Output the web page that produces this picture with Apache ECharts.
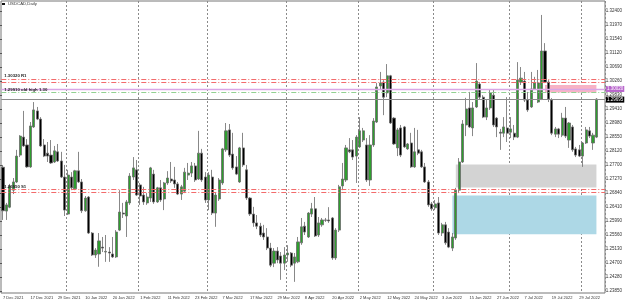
<!DOCTYPE html>
<html>
<head>
<meta charset="utf-8">
<script src="https://cdn.jsdelivr.net/npm/echarts@6/dist/echarts.min.js"></script>
<style>
html, body { margin: 0; padding: 0; background: #fff; }
#chart { width: 625px; height: 305px; }
</style>
</head>
<body>
<div id="chart"></div>
<script>
// USDCAD daily, 7 Dec 2021 .. 5 Aug 2022 (weekdays only, like the terminal)
const firstDay = [2021, 11, 7];
const barCount = 174;
const monthNames = ['Jan','Feb','Mar','Apr','May','Jun','Jul','Aug','Sep','Oct','Nov','Dec'];

const opens = [
  1.2763,1.2629,1.2641,1.2693,1.2718,1.2800,1.2855,1.2831,1.2764,1.2886,
  1.2935,1.2910,1.2831,1.2806,1.2800,1.2779,1.2810,1.2782,1.2733,1.2620,
  1.2733,1.2697,1.2752,1.2718,1.2630,1.2672,1.2562,1.2495,1.2498,1.2519,
  1.2504,1.2504,1.2498,1.2489,1.2571,1.2623,1.2614,1.2654,1.2733,1.2755,
  1.2709,1.2678,1.2654,1.2669,1.2742,1.2657,1.2700,1.2666,1.2715,1.2727,
  1.2724,1.2712,1.2681,1.2690,1.2739,1.2745,1.2767,1.2727,1.2806,1.2733,
  1.2663,1.2733,1.2623,1.2666,1.2715,1.2816,1.2877,1.2803,1.2764,1.2718,
  1.2822,1.2755,1.2669,1.2620,1.2593,1.2583,1.2562,1.2550,1.2516,1.2470,
  1.2507,1.2492,1.2470,1.2495,1.2501,1.2470,1.2474,1.2532,1.2583,1.2550,
  1.2620,1.2636,1.2556,1.2587,1.2602,1.2602,1.2608,1.2486,1.2571,1.2706,
  1.2724,1.2816,1.2816,1.2797,1.2825,1.2846,1.2831,1.2724,1.2831,1.2901,
  1.3011,1.3023,1.2990,1.3042,1.2913,1.2822,1.2883,1.2886,1.2819,1.2837,
  1.2764,1.2816,1.2810,1.2764,1.2718,1.2651,1.2639,1.2654,1.2562,1.2587,
  1.2565,1.2516,1.2547,1.2693,1.2779,1.2892,1.2944,1.2883,1.2947,1.3017,
  1.2977,1.2916,1.2944,1.2983,1.2913,1.2870,1.2867,1.2883,1.2870,1.2867,
  1.2855,1.3023,1.3026,1.2968,1.2947,1.3002,1.2962,1.2971,1.3118,1.3023,
  1.2968,1.2864,1.2880,1.2861,1.2913,1.2846,1.2886,1.2819,1.2816,1.2797,
  1.2837,1.2874,1.2837,1.2855
];
const closes = [
  1.2630,1.2648,1.2706,1.2718,1.2797,1.2858,1.2828,1.2764,1.2889,1.2938,
  1.2910,1.2828,1.2797,1.2797,1.2776,1.2813,1.2782,1.2733,1.2632,1.2739,
  1.2700,1.2752,1.2718,1.2630,1.2669,1.2562,1.2495,1.2510,1.2538,1.2516,
  1.2506,1.2501,1.2489,1.2565,1.2626,1.2620,1.2657,1.2736,1.2761,1.2678,
  1.2675,1.2657,1.2672,1.2761,1.2657,1.2700,1.2663,1.2715,1.2730,1.2721,
  1.2712,1.2681,1.2703,1.2748,1.2745,1.2767,1.2724,1.2806,1.2724,1.2663,
  1.2739,1.2623,1.2678,1.2724,1.2819,1.2874,1.2800,1.2761,1.2742,1.2822,
  1.2770,1.2669,1.2620,1.2593,1.2583,1.2556,1.2550,1.2516,1.2464,1.2507,
  1.2480,1.2470,1.2495,1.2501,1.2464,1.2489,1.2535,1.2581,1.2565,1.2623,
  1.2636,1.2553,1.2593,1.2602,1.2601,1.2599,1.2486,1.2571,1.2703,1.2727,
  1.2822,1.2810,1.2794,1.2855,1.2874,1.2874,1.2724,1.2831,1.2904,1.3008,
  1.3020,1.2977,1.3042,1.2898,1.2834,1.2877,1.2800,1.2825,1.2834,1.2764,
  1.2810,1.2806,1.2764,1.2718,1.2648,1.2636,1.2651,1.2562,1.2587,1.2532,
  1.2519,1.2550,1.2693,1.2779,1.2895,1.2941,1.2886,1.2944,1.3026,1.2977,
  1.2916,1.2944,1.2990,1.2892,1.2886,1.2867,1.2886,1.2867,1.2880,1.2855,
  1.3029,1.3035,1.2968,1.2938,1.3002,1.3020,1.3020,1.3118,1.3023,1.2971,
  1.2867,1.2880,1.2864,1.2913,1.2858,1.2898,1.2816,1.2800,1.2797,1.2837,
  1.2877,1.2858,1.2861,1.2971
];
const lows = [
  1.2602,1.2602,1.2638,1.2681,1.2715,1.2794,1.2825,1.2761,1.2761,1.2883,
  1.2907,1.2825,1.2794,1.2779,1.2773,1.2776,1.2779,1.2730,1.2614,1.2617,
  1.2693,1.2693,1.2715,1.2623,1.2627,1.2559,1.2492,1.2486,1.2459,1.2504,
  1.2474,1.2474,1.2486,1.2486,1.2568,1.2608,1.2550,1.2648,1.2724,1.2675,
  1.2648,1.2648,1.2648,1.2657,1.2651,1.2654,1.2657,1.2632,1.2709,1.2715,
  1.2700,1.2678,1.2663,1.2684,1.2724,1.2733,1.2718,1.2724,1.2718,1.2654,
  1.2632,1.2617,1.2581,1.2660,1.2709,1.2810,1.2794,1.2755,1.2739,1.2715,
  1.2764,1.2663,1.2614,1.2581,1.2574,1.2550,1.2541,1.2510,1.2458,1.2458,
  1.2470,1.2419,1.2449,1.2474,1.2458,1.2413,1.2470,1.2526,1.2556,1.2547,
  1.2611,1.2550,1.2550,1.2581,1.2596,1.2593,1.2480,1.2480,1.2565,1.2693,
  1.2718,1.2806,1.2785,1.2715,1.2822,1.2840,1.2718,1.2706,1.2825,1.2898,
  1.2999,1.2922,1.2977,1.2895,1.2831,1.2797,1.2794,1.2822,1.2816,1.2761,
  1.2761,1.2800,1.2761,1.2715,1.2642,1.2630,1.2632,1.2556,1.2553,1.2526,
  1.2516,1.2507,1.2541,1.2684,1.2776,1.2858,1.2883,1.2858,1.2944,1.2971,
  1.2913,1.2907,1.2938,1.2886,1.2855,1.2816,1.2855,1.2840,1.2852,1.2846,
  1.2852,1.3014,1.2962,1.2932,1.2944,1.2999,1.2959,1.2968,1.3020,1.2962,
  1.2861,1.2855,1.2852,1.2855,1.2852,1.2822,1.2810,1.2794,1.2794,1.2764,
  1.2834,1.2852,1.2816,1.2852
];
const highs = [
  1.2770,1.2654,1.2712,1.2730,1.2816,1.2861,1.2935,1.2849,1.2901,1.2962,
  1.2947,1.2916,1.2849,1.2840,1.2846,1.2828,1.2834,1.2810,1.2770,1.2755,
  1.2748,1.2755,1.2810,1.2727,1.2675,1.2675,1.2565,1.2516,1.2562,1.2550,
  1.2556,1.2519,1.2550,1.2571,1.2693,1.2654,1.2663,1.2745,1.2794,1.2785,
  1.2715,1.2703,1.2684,1.2764,1.2755,1.2703,1.2724,1.2718,1.2751,1.2779,
  1.2764,1.2718,1.2709,1.2761,1.2776,1.2779,1.2776,1.2874,1.2819,1.2748,
  1.2748,1.2755,1.2687,1.2730,1.2822,1.2898,1.2895,1.2868,1.2797,1.2825,
  1.2868,1.2770,1.2672,1.2642,1.2617,1.2593,1.2587,1.2577,1.2532,1.2516,
  1.2519,1.2504,1.2519,1.2525,1.2504,1.2501,1.2550,1.2608,1.2596,1.2626,
  1.2654,1.2672,1.2611,1.2608,1.2608,1.2641,1.2611,1.2577,1.2709,1.2776,
  1.2831,1.2852,1.2846,1.2861,1.2916,1.2883,1.2852,1.2861,1.2913,1.3020,
  1.3054,1.3029,1.3078,1.3045,1.2916,1.2883,1.2892,1.2889,1.2837,1.2868,
  1.2883,1.2877,1.2816,1.2776,1.2724,1.2657,1.2663,1.2672,1.2593,1.2596,
  1.2577,1.2562,1.2700,1.2791,1.2907,1.2975,1.2993,1.2962,1.3081,1.3023,
  1.2983,1.2968,1.2999,1.2999,1.2916,1.2880,1.2916,1.2977,1.2916,1.2892,
  1.3084,1.3069,1.3054,1.2993,1.3054,1.3039,1.3060,1.3228,1.3142,1.3029,
  1.2974,1.2886,1.2883,1.2929,1.2947,1.2901,1.2892,1.2825,1.2831,1.2840,
  1.2886,1.2886,1.2868,1.2974
];

// right scale labels, bottom to top
const yTicks = ['1.23850','1.24280','1.24700','1.25130','1.25560','1.25990','1.26410',
  '1.26840','1.27270','1.27700','1.28120','1.28550','1.28980','1.29410','1.29830',
  '1.30260','1.30690','1.31120','1.31540','1.31970','1.32400'];

// horizontal objects drawn on the chart
const redLevelsHigh = [1.3032, 1.3023];
const redLevelsLow = [1.2695, 1.2688];
const violetLevel = 1.3002;
const greenLevel = 1.2991;
const bidLevel = 1.29695;
// rectangles: [first bar, last bar, top price, bottom price]
const pinkBox = [158, 173, 1.3014, 1.2991];
const grayBox = [132, 173, 1.2771, 1.2701];
const blueBox = [131, 173, 1.2677, 1.2558];
const monthStarts = [19, 40, 60, 83, 104, 126, 148, 169];

function buildDates() {
  let d = new Date(Date.UTC(firstDay[0], firstDay[1], firstDay[2]));
  const out = [];
  while (out.length < barCount) {
    const wd = d.getUTCDay();
    if (wd !== 0 && wd !== 6) {
      out.push(d.getUTCDate() + ' ' + monthNames[d.getUTCMonth()] + ' ' + d.getUTCFullYear());
    }
    d.setUTCDate(d.getUTCDate() + 1);
  }
  return out;
}

const dates = buildDates();
// two empty slots = chart shift on the right
const categories = dates.concat([' ', '  ']);
const candles = opens.map((o, i) => [o, closes[i], lows[i], highs[i]]);

const FONT = 'Liberation Sans';
const dashDot = [5, 2, 1, 2];

function hLine(v, color, type, width, label) {
  const item = { yAxis: v, lineStyle: { color: color, type: type, width: width } };
  if (label) item.label = label;
  return item;
}

function box(b, color) {
  return [
    { xAxis: dates[b[0]], yAxis: b[2], itemStyle: { color: color } },
    { xAxis: dates[b[1]], yAxis: b[3] }
  ];
}

const priceTag = (text, bg) => ({
  show: true, position: 'end', formatter: text, distance: 1,
  backgroundColor: bg, color: '#fff', fontSize: 4.5, fontFamily: FONT,
  padding: [1, 1, 0, 1]
});
const leftTag = (text) => ({
  show: true, position: 'insideStartTop', formatter: text, distance: [3, 1],
  color: '#222', fontSize: 4.3, fontFamily: FONT, fontWeight: 'bold'
});

const option = {
  animation: false,
  backgroundColor: '#fff',
  grid: [
    // frame
    { left: 1, right: 20, top: 1, bottom: 12, show: true, borderColor: '#777', borderWidth: 1, backgroundColor: 'transparent' },
    // bars
    { left: 0, right: 20, top: 1, bottom: 12 },
    // price scale labels
    { left: 0, right: 20, top: 11, bottom: 14 }
  ],
  xAxis: [
    { gridIndex: 0, type: 'value', show: false },
    {
      gridIndex: 1, type: 'category', data: categories, boundaryGap: true,
      axisLine: { show: false }, axisTick: { show: false },
      axisLabel: {
        interval: 7, showMinLabel: true, align: 'left', margin: 3,
        fontSize: 4, fontFamily: FONT, color: '#333'
      },
      splitLine: {
        show: true,
        interval: (idx) => monthStarts.indexOf(idx) >= 0,
        lineStyle: { color: '#8a8a8a', type: [2, 2], width: 1 }
      }
    },
    { gridIndex: 2, type: 'value', show: false }
  ],
  yAxis: [
    { gridIndex: 0, type: 'value', show: false },
    { gridIndex: 1, type: 'value', min: 1.23789, max: 1.32706, show: false },
    {
      gridIndex: 2, type: 'value', position: 'right', min: 0, max: 20, interval: 1,
      axisLine: { show: false },
      axisTick: { show: true, length: 2, lineStyle: { color: '#555' } },
      splitLine: { show: false },
      axisLabel: {
        margin: 2, fontSize: 4.5, fontFamily: FONT, color: '#333',
        formatter: (v) => yTicks[Math.round(v)]
      }
    }
  ],
  graphic: [
    { type: 'rect', left: 2, top: 3, shape: { width: 3, height: 2 }, style: { fill: '#111' } },
    { type: 'text', left: 8, top: 2, style: { text: 'USDCAD,Daily', fontSize: 4.3, fontFamily: FONT, fill: '#333' } }
  ],
  series: [
    {
      // objects under the bars
      type: 'line', xAxisIndex: 1, yAxisIndex: 1, data: [], z: 1, silent: true,
      markArea: {
        silent: true,
        data: [box(pinkBox, '#f7b3c6'), box(grayBox, '#d3d3d3'), box(blueBox, '#add8e6')]
      },
      markLine: {
        silent: true, precision: 5, symbol: ['none', 'none'], label: { show: false },
        data: [
          hLine(redLevelsHigh[0], '#f26b6b', dashDot, 1.2, leftTag('1.30320 R1')),
          hLine(redLevelsHigh[1], '#f26b6b', dashDot, 1.2),
          hLine(violetLevel, '#d9a6e6', 'solid', 1.4, priceTag('1.30020', '#b864cc')),
          hLine(greenLevel, '#92d092', dashDot, 1, leftTag('1.29910 old high 1.30')),
          hLine(bidLevel, '#8c8c8c', 'solid', 1, priceTag('1.29695', '#000')),
          hLine(redLevelsLow[0], '#f26b6b', dashDot, 1.2, leftTag('1.26950 S1')),
          hLine(redLevelsLow[1], '#f26b6b', dashDot, 1.2)
        ]
      }
    },
    {
      type: 'candlestick', xAxisIndex: 1, yAxisIndex: 1, z: 3,
      data: candles, barWidth: 2.6,
      itemStyle: {
        color: '#2e9e2e', color0: '#000000',
        borderColor: '#6a6a6a', borderColor0: '#6a6a6a', borderWidth: 0.8
      }
    }
  ]
};

const myChart = echarts.init(document.getElementById('chart'));
myChart.setOption(option);
</script>
</body>
</html>
